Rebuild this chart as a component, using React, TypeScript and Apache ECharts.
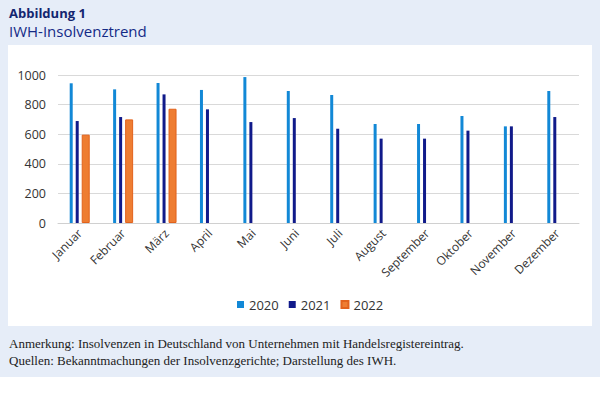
import React, { useEffect, useRef } from "react";
import * as echarts from "echarts";

const months = ["Januar", "Februar", "März", "April", "Mai", "Juni", "Juli", "August", "September", "Oktober", "November", "Dezember"];
const values2020 = [944, 903, 946, 899, 986, 892, 865, 669, 669, 723, 653, 892];
const values2021 = [689, 716, 869, 768, 682, 709, 637, 570, 570, 624, 653, 716];
const values2022 = [597, 700, 772];
const yTicks = { min: 0, max: 1000, interval: 200 };
const titleLine1 = "Abbildung 1";
const titleLine2 = "IWH-Insolvenztrend";
const note1 = "Anmerkung: Insolvenzen in Deutschland von Unternehmen mit Handelsregistereintrag.";
const note2 = "Quellen: Bekanntmachungen der Insolvenzgerichte; Darstellung des IWH.";

const SANS = "'Open Sans', 'DejaVu Sans', sans-serif";
const SERIF = "'Liberation Serif', 'DejaVu Serif', serif";

export default function App() {
  const ref = useRef<HTMLDivElement>(null);
  useEffect(() => {
    if (!ref.current) return;
    const chart = echarts.init(ref.current, null, { renderer: "svg" });
    chart.setOption({
      animation: false,
      backgroundColor: "#e6edf8",
      graphic: [
        { type: "rect", z: -10, shape: { x: 8, y: 45, width: 584, height: 281 }, style: { fill: "#ffffff" } },
        { type: "rect", z: -10, shape: { x: 0, y: 377, width: 600, height: 16 }, style: { fill: "#ffffff" } },
        { type: "text", x: 9, y: 6, style: { text: titleLine1, font: `bold 13px ${SANS}`, fill: "#13266f" } },
        { type: "text", x: 9, y: 23, style: { text: titleLine2, font: `15px ${SANS}`, fill: "#142a86" } },
        { type: "text", x: 9, y: 337, style: { text: note1, font: `13px ${SERIF}`, fill: "#222222" } },
        { type: "text", x: 9, y: 354, style: { text: note2, font: `13px ${SERIF}`, fill: "#222222" } },
      ],
      grid: { left: 58, right: 21, top: 75, bottom: 170, containLabel: false },
      legend: {
        top: 293,
        left: 232,
        icon: "rect",
        itemWidth: 7,
        itemHeight: 7,
        itemGap: 10,
        textStyle: { fontFamily: SANS, fontSize: 13, color: "#333333" },
        data: ["2020", "2021", "2022"],
      },
      xAxis: {
        type: "category",
        data: months,
        axisLine: { lineStyle: { color: "#d0d0d0", width: 1 } },
        axisTick: { show: false },
        axisLabel: { rotate: 45, fontFamily: SANS, fontSize: 12, color: "#333333", margin: 8, interval: 0 },
      },
      yAxis: {
        type: "value",
        min: yTicks.min,
        max: yTicks.max,
        interval: yTicks.interval,
        axisLine: { show: false },
        axisTick: { show: false },
        splitLine: { lineStyle: { color: "#d9d9d9", width: 1 } },
        axisLabel: { fontFamily: SANS, fontSize: 12.5, color: "#333333", margin: 12, formatter: (v: number) => String(v) },
      },
      series: [
        { name: "2020", type: "bar", data: values2020, barWidth: 3, barGap: "100%", itemStyle: { color: "#1288d6" } },
        { name: "2021", type: "bar", data: values2021, barWidth: 3, barGap: "100%", itemStyle: { color: "#101a8a" } },
        { name: "2022", type: "bar", data: values2022, barWidth: 8, barGap: "100%", itemStyle: { color: "#ee7d32", borderColor: "#e2621c", borderWidth: 1 } },
      ],
    });
    return () => chart.dispose();
  }, []);
  return <div ref={ref} style={{ position: "absolute", left: 0, top: 0, width: 600, height: 393 }} />;
}
